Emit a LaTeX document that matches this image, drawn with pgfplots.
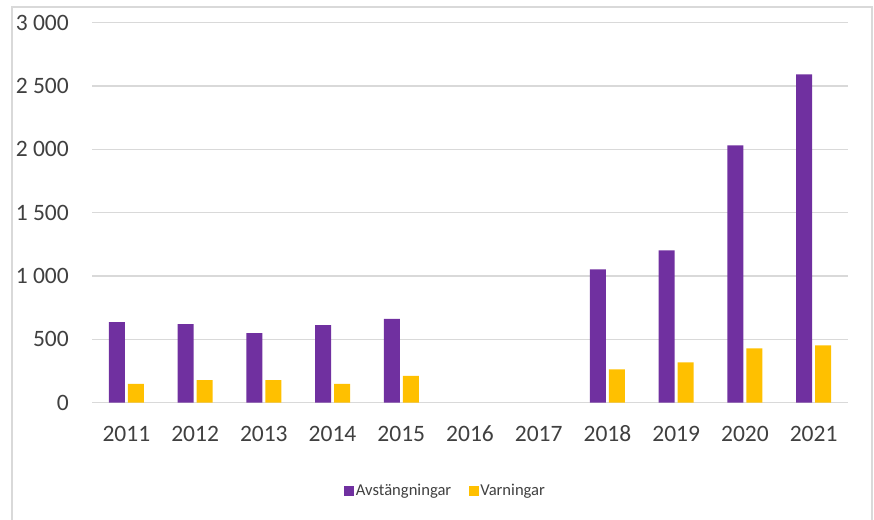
\documentclass[border=0pt]{standalone}
\usepackage{fontspec}
\setmainfont{Carlito}
\usepackage{pgfplots}
\pgfplotsset{compat=1.18}
\definecolor{lila}{HTML}{7030A0}
\definecolor{gul}{HTML}{FFC000}
\definecolor{rutnat}{HTML}{D9D9D9}
\definecolor{textgra}{HTML}{404040}

\pgfplotstableread{
x ar avst varn
0 2011 637 148
1 2012 621 179
2 2013 550 179
3 2014 613 148
4 2015 661 211
7 2018 1052 263
8 2019 1202 318
9 2020 2031 429
10 2021 2592 452
}\data

\begin{document}
\begin{tikzpicture}
\path[use as bounding box] (0pt,0pt) rectangle (874pt,-519pt);
\draw[rutnat, line width=1.5pt] (12pt,-560pt) -- (12pt,-7pt) -- (872pt,-7pt) -- (872pt,-560pt);
\begin{axis}[
    at={(92pt,-402.7pt)}, anchor=south west,
    scale only axis,
    width=756pt, height=380pt,
    ybar=3pt,
    bar width=16pt,
    xmin=-0.5, xmax=10.5,
    ymin=0, ymax=3000,
    xtick={0,...,10},
    xticklabels={2011,2012,2013,2014,2015,2016,2017,2018,2019,2020,2021},
    ytick={0,500,1000,1500,2000,2500,3000},
    yticklabels={0,500,1 000,1 500,2 000,2 500,3 000},
    axis line style={draw=none},
    major tick length=0pt,
    ymajorgrids=true,
    grid style={rutnat, line width=1.5pt},
    tick label style={font=\fontsize{23.5}{26}\selectfont, text=textgra},
    yticklabel style={anchor=east, inner sep=0pt, xshift=-23pt},
    xticklabel style={anchor=north, inner sep=0pt, yshift=-23pt},
    legend columns=2,
    legend style={draw=none, fill=none, at={(0.4675,-0.232)}, anchor=center,
        font=\fontsize{16.6}{19}\selectfont, text=textgra,
        /tikz/every even column/.append style={column sep=16pt},
        nodes={inner sep=1.5pt}},
    legend image code/.code={\fill[#1] (0pt,-5pt) rectangle (10pt,5pt);},
]
\addplot[fill=lila, draw=none] table[x=x, y=avst] {\data};
\addplot[fill=gul, draw=none] table[x=x, y=varn] {\data};
\legend{Avstängningar, Varningar}
\end{axis}
\end{tikzpicture}
\end{document}
